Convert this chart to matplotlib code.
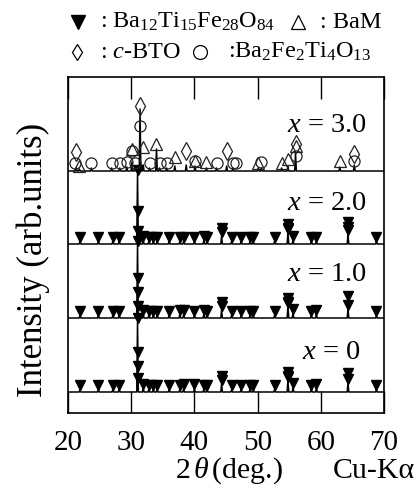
import matplotlib
matplotlib.use("Agg")
import matplotlib.pyplot as plt
from matplotlib.lines import Line2D

plt.rcParams["font.family"] = ["Liberation Serif", "DejaVu Sans"]
plt.rcParams["mathtext.fontset"] = "custom"
plt.rcParams["mathtext.rm"] = "Liberation Serif"
plt.rcParams["mathtext.it"] = "Liberation Serif:italic"

# --- data (intensity in arbitrary units, offsets stack the patterns) ---
labels = ["$x$ = 0", "$x$ = 1.0", "$x$ = 2.0", "$x$ = 3.0"]
offsets = [21, 95, 169, 242]

# Ba12Ti15Fe28O84 reflections (x = 0, 1.0, 2.0)
m_pos = [21.9, 24.8, 27.1, 28.1, 31.0, 31.9, 32.8, 33.5, 34.1, 36.0, 37.7, 38.3,
         40.0, 41.5, 42.0, 44.3, 45.9, 47.4, 48.8, 49.3, 52.7, 54.8, 55.6, 58.5,
         59.3, 64.3, 68.8]
m_height_x0 = [3, 3, 3, 3, 70, 4, 3, 3, 3, 3, 3, 4, 4, 3, 3, 8, 3, 3, 3, 3, 3, 12, 5, 3, 4, 9, 3]
m_height_x1 = [3, 3, 3, 3, 73, 4, 3, 3, 3, 3, 4, 4, 3, 4, 3, 8, 3, 3, 3, 3, 3, 12, 5, 3, 4, 9, 3]
m_height_x2 = [3, 3, 3, 3, 70, 4, 3, 3, 3, 3, 3, 3, 3, 4, 3, 8, 3, 3, 3, 3, 3, 12, 4, 3, 3, 10, 3]
# extra stacked markers on the strong lines: (2theta, height above baseline)
stack_x0 = [(31.0, 40), (31.0, 26), (31.0, 14), (44.3, 16), (54.8, 20), (54.8, 15), (64.3, 19)]
stack_x1 = [(31.0, 40), (31.0, 26), (31.0, 12), (44.3, 16), (54.8, 20), (54.8, 15), (64.3, 22)]
stack_x2 = [(31.0, 33), (31.0, 13), (44.3, 16), (54.8, 20), (54.8, 15), (64.3, 22), (64.3, 17)]

# x = 3.0 pattern
p3_pos = [21.3, 21.8, 23.7, 26.9, 28.2, 29.3, 30.1, 30.6, 31.4, 31.9, 32.9, 34.0, 34.5,
          35.6, 36.9, 38.7, 40.1, 41.9, 43.5, 45.1, 46.1, 50.1, 50.6, 53.8, 54.8, 56.0,
          63.0, 65.3]
p3_height = [3, 2, 3, 3, 3, 4, 9, 4, 62, 6, 3, 22, 3, 3, 5, 6, 5, 3, 3, 5, 3, 3, 3, 3, 5, 18,
             4, 6]
circ3 = [(21.1, 8), (23.7, 8), (26.9, 8), (28.2, 8), (29.3, 9), (30.1, 20), (30.6, 8),
         (31.4, 45), (32.9, 8), (34.5, 8), (35.6, 8), (40.1, 10), (43.5, 8), (46.1, 8),
         (46.6, 8), (50.6, 9), (56.0, 15), (65.3, 10)]
tri3 = [(21.8, 5), (30.1, 22), (31.9, 24), (34.0, 27), (36.9, 14), (40.1, 10), (41.9, 9),
        (50.1, 8), (53.8, 8), (54.8, 12), (56.0, 25), (63.0, 10)]
dia3 = [(21.3, 19), (31.4, 65), (38.7, 20), (45.1, 20), (56.0, 27), (65.3, 17)]

x_ticks = [20, 30, 40, 50, 60, 70]


def pattern_xy(pos, height, base, w=0.13):
    xs, ys = [20], [base]
    for p, h in sorted(zip(pos, height)):
        xs += [p - w, p, p + w]
        ys += [base, base + h, base]
    xs.append(70)
    ys.append(base)
    return xs, ys


fig = plt.figure(figsize=(4.18, 4.88), dpi=100)
ax = fig.add_axes([0.1627, 0.1537, 0.756, 0.6885])

black_heights = [m_height_x0, m_height_x1, m_height_x2]
stacks = [stack_x0, stack_x1, stack_x2]
for base, heights, stack in zip(offsets[:3], black_heights, stacks):
    xs, ys = pattern_xy(m_pos, heights, base)
    ax.plot(xs, ys, color="black", linewidth=1.1)
    ax.plot(m_pos, [base + h + 4 for h in heights], linestyle="none", marker="v",
            color="black", markersize=7.3)
    ax.plot([s[0] for s in stack], [base + s[1] for s in stack], linestyle="none",
            marker="v", color="black", markersize=7.3)

base3 = offsets[3]
xs, ys = pattern_xy(p3_pos, p3_height, base3)
ax.plot(xs, ys, color="black", linewidth=1.1)
open_style = dict(linestyle="none", markerfacecolor="none", markeredgecolor="#222222",
                  markeredgewidth=0.9)
ax.plot([c[0] for c in circ3], [base3 + c[1] for c in circ3], marker="o", markersize=8,
        **open_style)
ax.plot([t[0] for t in tri3], [base3 + t[1] for t in tri3], marker="^", markersize=8,
        **open_style)
ax.plot([d[0] for d in dia3], [base3 + d[1] for d in dia3], marker="d", markersize=9,
        **open_style)

label_y = [353, 275, 203, 125]
label_right = [360, 367, 367, 367]
for lab, yy, xr in zip(labels, label_y, label_right):
    ax.text(20 + (xr - 68) / 6.32, 413 - yy, lab, fontsize=20.5, ha="right", va="center")

ax.set_xlim(20, 70)
ax.set_ylim(0, 336)
ax.set_xticks(x_ticks)
ax.set_yticks([])
ax.tick_params(axis="x", direction="in", length=16, width=1.0, top=True,
               labelsize=21, pad=12)
for spine in ax.spines.values():
    spine.set_linewidth(1.2)

fig.text(33 / 418, 1 - 260 / 488, "Intensity (arb.units)", fontsize=25, rotation=90,
         ha="center", va="center")
fig.text(229 / 418, 1 - 471 / 488, r"$2\,\theta\,$(deg.)", fontsize=21.5, ha="center",
         va="center")
fig.text(415 / 418, 1 - 471 / 488, "Cu-K\u03b1", fontsize=21.5, ha="right", va="center")

# legend on top
fig.add_artist(Line2D([78 / 418], [1 - 22 / 488], marker="v", color="black",
                      markersize=10, transform=fig.transFigure))
fig.text(100 / 418, 1 - 22 / 488, r": $\mathrm{Ba_{12}Ti_{15}Fe_{28}O_{84}}$",
         fontsize=17.5, va="center")
fig.add_artist(Line2D([298 / 418], [1 - 22 / 488], marker="^", markerfacecolor="none",
                      markeredgecolor="black", markeredgewidth=0.9, markersize=10,
                      transform=fig.transFigure))
fig.text(320 / 418, 1 - 22 / 488, ": BaM", fontsize=17.5, va="center")
fig.add_artist(Line2D([77 / 418], [1 - 52 / 488], marker="d", markerfacecolor="none",
                      markeredgecolor="black", markeredgewidth=0.9, markersize=8,
                      transform=fig.transFigure))
fig.text(100 / 418, 1 - 52 / 488, r": $c$-BTO", fontsize=17.5, va="center")
fig.add_artist(Line2D([200 / 418], [1 - 52 / 488], marker="o", markerfacecolor="none",
                      markeredgecolor="black", markeredgewidth=0.9, markersize=10,
                      transform=fig.transFigure))
fig.text(228 / 418, 1 - 52 / 488, r":$\mathrm{Ba_{2}Fe_{2}Ti_{4}O_{13}}$", fontsize=17.5,
         va="center")

fig.savefig("out.png", dpi=100)
